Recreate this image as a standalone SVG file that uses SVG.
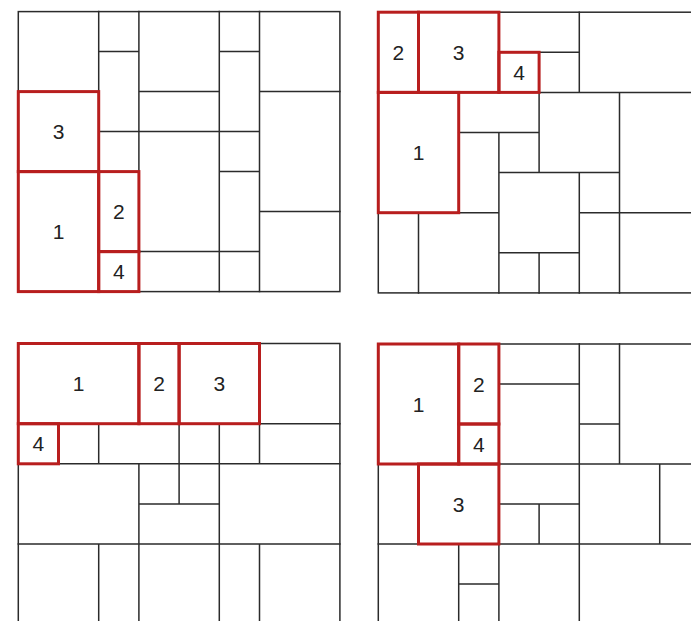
<svg xmlns="http://www.w3.org/2000/svg" width="691" height="621" viewBox="0 0 691 621">
<style>
.g{fill:none;stroke:#2b2b2b;stroke-width:1.5;stroke-linecap:square}
.r{fill:none;stroke:#b81e1e;stroke-width:3;stroke-linejoin:miter}
.t{font-family:"Liberation Sans",Arial,sans-serif;font-size:21px;fill:#222;text-anchor:middle}
</style>
<rect width="691" height="621" fill="#fff"/>

<!-- Top-left panel -->
<g id="panel-tl">
<g class="g" id="grid-tl">
<rect x="18.3" y="11.6" width="321.6" height="280"/>
<path d="M98.7 11.6V291.6M138.9 11.6V291.6M219.3 11.6V291.6M259.5 11.6V291.6
M98.7 51.6H138.9M219.3 51.6H259.5
M138.9 91.6H219.3M259.5 91.6H339.9
M98.7 131.6H259.5
M219.3 171.6H259.5
M259.5 211.6H339.9
M138.9 251.6H259.5"/>
</g>
<g id="tl-3"><rect class="r" x="18.3" y="91.6" width="80.4" height="80"/><text class="t" x="58.5" y="139.1">3</text></g>
<g id="tl-1"><rect class="r" x="18.3" y="171.6" width="80.4" height="120"/><text class="t" x="58.5" y="239.1">1</text></g>
<g id="tl-2"><rect class="r" x="98.7" y="171.6" width="40.2" height="80"/><text class="t" x="118.8" y="219.1">2</text></g>
<g id="tl-4"><rect class="r" x="98.7" y="251.6" width="40.2" height="40"/><text class="t" x="118.8" y="279.1">4</text></g>
</g>

<!-- Top-right panel -->
<g id="panel-tr">
<g class="g" id="grid-tr">
<rect x="378.3" y="12.2" width="321.6" height="280.7"/>
<path d="M418.5 212.7V292.9M498.9 132.5V292.9M539.1 92.4V172.6M539.1 252.8V292.9
M579.3 12.2V92.4M579.3 172.6V292.9M619.5 92.4V292.9
M539.1 52.3H579.3M539.1 92.4H699.9M458.7 132.5H539.1M498.9 172.6H619.5
M458.7 212.7H498.9M579.3 212.7H699.9M498.9 252.8H579.3"/>
</g>
<g id="tr-2"><rect class="r" x="378.3" y="12.2" width="40.2" height="80.2"/><text class="t" x="398.4" y="59.8">2</text></g>
<g id="tr-3"><rect class="r" x="418.5" y="12.2" width="80.4" height="80.2"/><text class="t" x="458.7" y="59.8">3</text></g>
<g id="tr-4"><rect class="r" x="498.9" y="52.3" width="40.2" height="40.1"/><text class="t" x="519" y="80">4</text></g>
<g id="tr-1"><rect class="r" x="378.3" y="92.4" width="80.4" height="120.3"/><text class="t" x="418.5" y="160">1</text></g>
</g>

<!-- Bottom-left panel -->
<g id="panel-bl">
<g class="g" id="grid-bl">
<rect x="18.3" y="343.5" width="321.6" height="280.7"/>
<path d="M98.7 423.7V463.8M98.7 544V624.2M138.9 463.8V624.2M179.1 423.7V503.9
M219.3 423.7V624.2M259.5 423.7V463.8M259.5 544V624.2
M259.5 423.7H339.9M58.5 463.8H339.9M138.9 503.9H219.3M18.3 544H339.9"/>
</g>
<g id="bl-1"><rect class="r" x="18.3" y="343.5" width="120.6" height="80.2"/><text class="t" x="78.6" y="391.1">1</text></g>
<g id="bl-2"><rect class="r" x="138.9" y="343.5" width="40.2" height="80.2"/><text class="t" x="159" y="391.1">2</text></g>
<g id="bl-3"><rect class="r" x="179.1" y="343.5" width="80.4" height="80.2"/><text class="t" x="219.3" y="391.1">3</text></g>
<g id="bl-4"><rect class="r" x="18.3" y="423.7" width="40.2" height="40.1"/><text class="t" x="38.4" y="451.3">4</text></g>
</g>

<!-- Bottom-right panel -->
<g id="panel-br">
<g class="g" id="grid-br">
<rect x="378.3" y="344" width="321.6" height="280"/>
<path d="M458.7 544V624M498.9 544V624M539.1 504V544M579.3 344V624M619.5 344V464M659.7 464V544
M498.9 384H579.3M579.3 424H619.5M498.9 464H699.9M498.9 504H579.3
M378.3 544H418.5M498.9 544H699.9M458.7 584H498.9"/>
</g>
<g id="br-1"><rect class="r" x="378.3" y="344" width="80.4" height="120"/><text class="t" x="418.5" y="411.5">1</text></g>
<g id="br-2"><rect class="r" x="458.7" y="344" width="40.2" height="80"/><text class="t" x="478.8" y="391.5">2</text></g>
<g id="br-4"><rect class="r" x="458.7" y="424" width="40.2" height="40"/><text class="t" x="478.8" y="451.5">4</text></g>
<g id="br-3"><rect class="r" x="418.5" y="464" width="80.4" height="80"/><text class="t" x="458.7" y="511.5">3</text></g>
</g>
</svg>
